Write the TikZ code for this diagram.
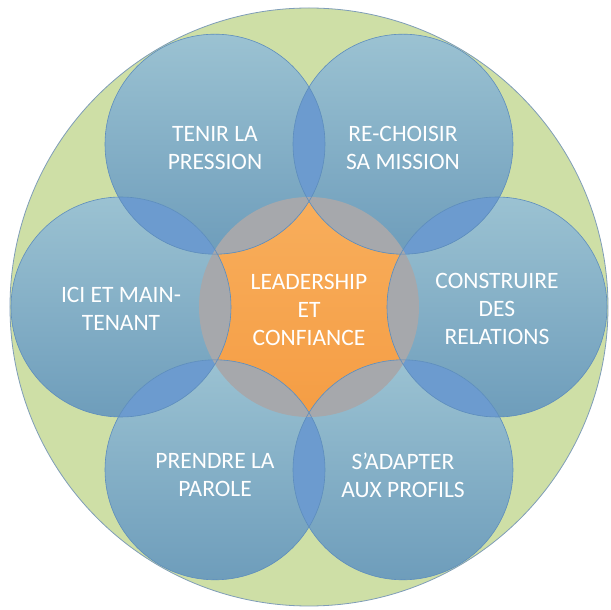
\documentclass[tikz,border=0pt]{standalone}
\usepackage{fontspec}
\setmainfont{Carlito}
\definecolor{vert}{HTML}{CEDFA6}
\definecolor{bordvert}{HTML}{7F9DB8}
\definecolor{bleuhaut}{HTML}{9BC2D2}
\definecolor{bleubas}{HTML}{6E9DBB}
\definecolor{bleutrait}{HTML}{5D8DBD}
\definecolor{bleulens}{HTML}{6C9BCF}
\definecolor{gris}{HTML}{A6A8AC}
\definecolor{orangehaut}{HTML}{F8AE5C}
\definecolor{orangebas}{HTML}{F59D44}

\begin{document}
\begin{tikzpicture}[x=1pt,y=1pt]
  \tikzstyle{bulle}=[circle,minimum size=220pt,inner sep=0pt,outer sep=0pt,
                     top color=bleuhaut,bottom color=bleubas]
  \tikzstyle{trait}=[draw=bleutrait,line width=0.6pt]
  \tikzstyle{texte}=[text=white,align=center,font=\fontsize{23.5}{28}\selectfont]
  \useasboundingbox (-309,-303) rectangle (302,307);
  % fond et coeur
  \node[circle,minimum size=598pt,inner sep=0pt,fill=vert,
        draw=bordvert,line width=0.8pt] (fond) at (0,0) {};
  \node[bulle,top color=orangehaut,bottom color=orangebas] (coeur) at (0,0) {};
  % les six bulles
  \node[bulle] (relations) at (0:188)   {};
  \node[bulle] (mission)   at (60:188)  {};
  \node[bulle] (pression)  at (120:188) {};
  \node[bulle] (ici)       at (180:188) {};
  \node[bulle] (parole)    at (240:188) {};
  \node[bulle] (profils)   at (300:188) {};
  % recouvrements
  \begin{scope}\clip (relations.center) circle (110); \fill[bleulens] (mission.center) circle (110);\end{scope}
  \begin{scope}\clip (mission.center) circle (110); \fill[bleulens] (pression.center) circle (110);\end{scope}
  \begin{scope}\clip (pression.center) circle (110); \fill[bleulens] (ici.center) circle (110);\end{scope}
  \begin{scope}\clip (ici.center) circle (110); \fill[bleulens] (parole.center) circle (110);\end{scope}
  \begin{scope}\clip (parole.center) circle (110); \fill[bleulens] (profils.center) circle (110);\end{scope}
  \begin{scope}\clip (profils.center) circle (110); \fill[bleulens] (relations.center) circle (110);\end{scope}
  \begin{scope}
    \clip (coeur.center) circle (110);
    \fill[gris] (relations.center) circle (110) (mission.center) circle (110)
      (pression.center) circle (110) (ici.center) circle (110)
      (parole.center) circle (110) (profils.center) circle (110);
  \end{scope}
  \draw[trait] (relations.center) circle (110) (mission.center) circle (110)
    (pression.center) circle (110) (ici.center) circle (110)
    (parole.center) circle (110) (profils.center) circle (110);
  % textes
  \node[texte] (t0) at ([yshift=-3pt]coeur.center)     {LEADERSHIP\\ET\\CONFIANCE};
  \node[texte] (t1) at ([yshift=-2pt]relations.center) {CONSTRUIRE\\DES\\RELATIONS};
  \node[texte] (t2) at ([yshift=-4pt]mission.center)   {RE-CHOISIR\\SA MISSION};
  \node[texte] (t3) at ([yshift=-4pt]pression.center)  {TENIR LA\\PRESSION};
  \node[texte] (t4) at ([yshift=-2pt]ici.center)       {ICI ET MAIN-\\TENANT};
  \node[texte] (t5) at ([yshift=-5pt]parole.center)    {PRENDRE LA\\PAROLE};
  \node[texte] (t6) at ([yshift=-5pt]profils.center)   {S’ADAPTER\\AUX PROFILS};
\end{tikzpicture}
\end{document}
